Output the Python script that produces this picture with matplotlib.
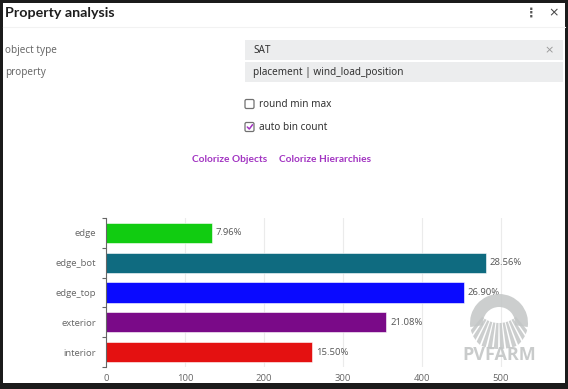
import matplotlib
matplotlib.use("Agg")
import matplotlib.pyplot as plt
from matplotlib.patches import Rectangle, FancyBboxPatch, Wedge, Circle
import numpy as np

# chart data
categories = ["edge", "edge_bot", "edge_top", "exterior", "interior"]
counts = [134, 481, 453, 355, 261]
percents = [7.96, 28.56, 26.90, 21.08, 15.50]
bar_colors = ["#11cc11", "#0f6b80", "#0a0aff", "#7a0a88", "#e41111"]
x_ticks = [0, 100, 200, 300, 400, 500]

# panel text
title = "Property analysis"
field_labels = ["object type", "property"]
field_values = ["SAT", "placement | wind_load_position"]
checks = [("round min max", False), ("auto bin count", True)]
links = ["Colorize Objects", "Colorize Hierarchies"]

W, H = 568, 389
UI_FONT = ["Noto Sans", "DejaVu Sans"]
BOLD_FONT = ["Lato", "DejaVu Sans"]
CHART_FONT = ["Open Sans", "DejaVu Sans"]
PURPLE = "#a234c2"

fig = plt.figure(figsize=(W / 100, H / 100), dpi=100)
fig.patch.set_facecolor("#1b1b1b")

# ---- panel / UI layer (pixel coordinates) ----
ui = fig.add_axes([0, 0, 1, 1], zorder=0)
ui.set_xlim(0, W)
ui.set_ylim(H, 0)
ui.axis("off")
ui.add_patch(Rectangle((3, 3), 562, 380, facecolor="white", edgecolor="none"))
ui.plot([3, 565], [27, 27], color="#f2f2f2", lw=0.8)

ui.text(5, 13, title, fontsize=10.3, fontweight="bold", color="#1e1e1e",
        family=BOLD_FONT, va="center", ha="left")
ui.text(531, 13, "\u22ee", fontsize=9, fontweight="bold", color="#555555",
        family=["DejaVu Sans"], va="center", ha="center")
ui.text(554, 13, "\u00d7", fontsize=9, color="#444444",
        family=["DejaVu Sans"], va="center", ha="center")

for i, (lab, val) in enumerate(zip(field_labels, field_values)):
    yc = 50 + i * 22
    ui.add_patch(Rectangle((245, yc - 10), 318, 20, facecolor="#ecedee",
                           edgecolor="none"))
    ui.text(5, yc, lab, fontsize=7.2, color="#6a6a6a", family=UI_FONT,
            va="center", ha="left")
    ui.text(253, yc, val, fontsize=7.2, color="#333333", family=UI_FONT,
            va="center", ha="left")
ui.text(549, 50, "\u00d7", fontsize=8, color="#9a9a9a",
        family=["DejaVu Sans"], va="center", ha="center")

for i, (lab, on) in enumerate(checks):
    yc = 104 + i * 23
    ui.add_patch(FancyBboxPatch((245, yc - 4.5), 9, 9,
                                boxstyle="round,pad=0,rounding_size=1.5",
                                facecolor="white", edgecolor="#707070", lw=0.9))
    if on:
        ui.plot([247.3, 249.3, 252.5], [yc, yc + 2, yc - 2.3],
                color=PURPLE, lw=1.1, solid_capstyle="round")
    ui.text(259, yc, lab, fontsize=7.2, color="#333333", family=UI_FONT,
            va="center", ha="left")

ui.text(192, 159, links[0], fontsize=7.3, fontweight="bold", color=PURPLE,
        family=BOLD_FONT, va="center", ha="left")
ui.text(279, 159, links[1], fontsize=7.3, fontweight="bold", color=PURPLE,
        family=BOLD_FONT, va="center", ha="left")

# ---- bar chart ----
x0, px_per_unit = 106, 0.79
xmax = 575
ax = fig.add_axes([x0 / W, (H - 367) / H, xmax * px_per_unit / W, 149 / H],
                  zorder=1)
ax.patch.set_alpha(0)
ypos = np.arange(len(categories))
ax.barh(ypos, counts, height=0.68, color=bar_colors, zorder=2,
        edgecolor="white", linewidth=0.4)
for y, c, p in zip(ypos, counts, percents):
    ax.text(c + 5, y, f"{p:.2f}%", fontsize=6.8, color="#555555",
            family=CHART_FONT, va="center", ha="left")

ax.set_xlim(0, xmax)
ax.set_ylim(len(categories) - 0.5, -0.5)
ax.set_xticks(x_ticks)
ax.set_xticklabels([str(t) for t in x_ticks], fontsize=6.8, color="#666666",
                   family=CHART_FONT)
ax.set_yticks(ypos)
ax.set_yticklabels(categories, fontsize=6.8, color="#666666", family=CHART_FONT)
ax.set_yticks(np.arange(-0.5, len(categories)), minor=True)
ax.tick_params(axis="y", which="major", length=0, pad=7)
ax.tick_params(axis="y", which="minor", length=3, color="#666666", width=0.8)
ax.tick_params(axis="x", length=0, pad=5)
ax.grid(axis="x", color="#ebebeb", lw=0.8, zorder=0)
ax.set_axisbelow(True)
for s in ["top", "right", "bottom"]:
    ax.spines[s].set_visible(False)
ax.spines["left"].set_color("#666666")
ax.spines["left"].set_linewidth(0.8)

# ---- watermark ----
wm = fig.add_axes([0, 0, 1, 1], zorder=2)
wm.set_xlim(0, W)
wm.set_ylim(H, 0)
wm.axis("off")
wm.patch.set_alpha(0)
gray = "#c3c6c6"
cx, cy, r = 499, 323, 29
wm.add_patch(Wedge((cx, cy), r, 172, 368, width=13, facecolor=gray,
                   edgecolor="none", alpha=0.85))
clip = Circle((cx, cy), r, transform=wm.transData)
for ang in np.linspace(52, 128, 12):
    w = Wedge((cx, cy - 26), 52, ang - 2.4, ang + 2.4, width=26,
              facecolor=gray, edgecolor="none", alpha=0.85)
    wm.add_patch(w)
    w.set_clip_path(clip)
wm.text(cx, 355, "PVFARM", fontsize=13, fontweight="bold", color=gray,
        family=["Open Sans", "DejaVu Sans"], va="center", ha="center",
        alpha=0.9)

fig.savefig("out.png", dpi=100, facecolor=fig.get_facecolor())
